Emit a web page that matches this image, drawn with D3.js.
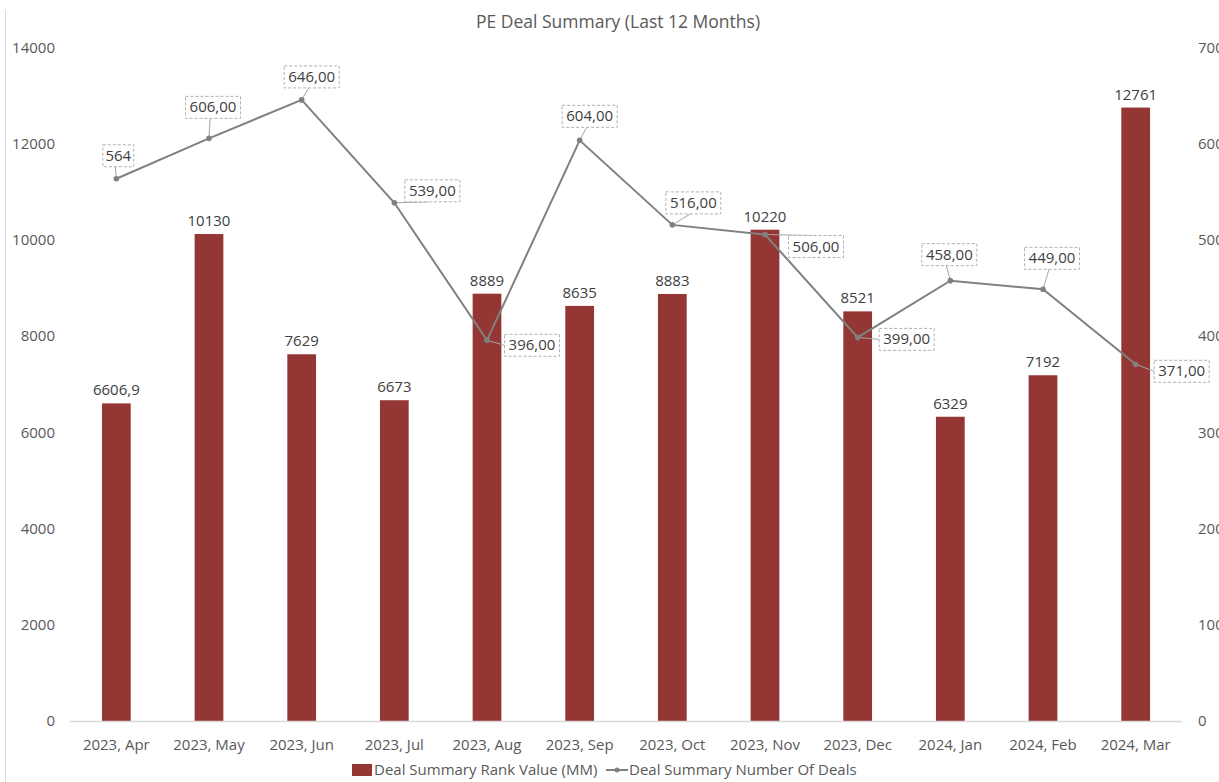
<!DOCTYPE html>
<html>
<head>
<meta charset="utf-8">
<script src="https://cdn.jsdelivr.net/npm/d3@7"></script>
<style>
  body { margin: 0; background: #fff; }
  svg { display: block; font-family: "Open Sans", sans-serif; }
</style>
</head>
<body>
<div id="chart"></div>
<script>
// Chart data
var months = ["2023, Apr", "2023, May", "2023, Jun", "2023, Jul", "2023, Aug", "2023, Sep",
              "2023, Oct", "2023, Nov", "2023, Dec", "2024, Jan", "2024, Feb", "2024, Mar"];
var rankValue = [6606.9, 10130, 7629, 6673, 8889, 8635, 8883, 10220, 8521, 6329, 7192, 12761];
var numDeals = [564, 606, 646, 539, 396, 604, 516, 506, 399, 458, 449, 371];
var dealLabels = ["564", "606,00", "646,00", "539,00", "396,00", "604,00",
                  "516,00", "506,00", "399,00", "458,00", "449,00", "371,00"];
var leftTicks = [0, 2000, 4000, 6000, 8000, 10000, 12000, 14000];
var rightTicks = [0, 100, 200, 300, 400, 500, 600, 700];

// Where each deal label box sits relative to its point (dx, dy)
var labelNudge = [[2, -23], [4, -31], [10, -23], [38, -12], [45, 5], [10, -24],
                  [21, -22], [51, 12], [49, 2], [-1, -26], [9, -31], [46, 7]];

var width = 1219, height = 782;
var margin = { top: 48, right: 37, bottom: 61, left: 70 };

var barColor = "#943634";
var lineColor = "#808080";
var textColor = "#595959";

var svg = d3.select("#chart").append("svg")
    .attr("width", width)
    .attr("height", height);

// Scales
var x = d3.scaleBand()
    .domain(months)
    .range([margin.left, width - margin.right])
    .paddingInner(0.69)
    .paddingOuter(0.345);

var yLeft = d3.scaleLinear().domain([0, 14000]).range([height - margin.bottom, margin.top]);
var yRight = d3.scaleLinear().domain([0, 700]).range([height - margin.bottom, margin.top]);

// Thin border line on the left edge
svg.append("line")
    .attr("x1", 5.5).attr("x2", 5.5)
    .attr("y1", 10).attr("y2", height)
    .attr("stroke", "#d9d9d9");

// Title
svg.append("text")
    .attr("x", 618)
    .attr("y", 28)
    .attr("text-anchor", "middle")
    .attr("fill", textColor)
    .style("font-size", "17.5px")
    .text("PE Deal Summary (Last 12 Months)");

// Left axis labels
svg.append("g")
    .selectAll("text")
    .data(leftTicks)
    .join("text")
    .attr("x", 55)
    .attr("y", d => yLeft(d) + 5)
    .attr("text-anchor", "end")
    .attr("fill", textColor)
    .style("font-size", "15px")
    .text(d => d);

// Right axis labels (cut by the picture edge, as in the source)
svg.append("g")
    .selectAll("text")
    .data(rightTicks)
    .join("text")
    .attr("x", 1198)
    .attr("y", d => yRight(d) + 5)
    .attr("text-anchor", "start")
    .attr("fill", textColor)
    .style("font-size", "15px")
    .text(d => d);

// Bars
svg.append("g")
    .selectAll("rect")
    .data(rankValue)
    .join("rect")
    .attr("x", (d, i) => x(months[i]))
    .attr("y", d => yLeft(d))
    .attr("width", x.bandwidth())
    .attr("height", d => yLeft(0) - yLeft(d))
    .attr("fill", barColor);

// Baseline
svg.append("line")
    .attr("x1", margin.left).attr("x2", width - margin.right)
    .attr("y1", yLeft(0) + 0.5).attr("y2", yLeft(0) + 0.5)
    .attr("stroke", "#d9d9d9")
    .attr("stroke-width", 1.5);

// Bar value labels
svg.append("g")
    .selectAll("text")
    .data(rankValue)
    .join("text")
    .attr("x", (d, i) => x(months[i]) + x.bandwidth() / 2)
    .attr("y", d => yLeft(d) - 8)
    .attr("text-anchor", "middle")
    .attr("fill", "#404040")
    .style("font-size", "15px")
    .text(d => String(d).replace(".", ","));

// X axis labels
svg.append("g")
    .selectAll("text")
    .data(months)
    .join("text")
    .attr("x", d => x(d) + x.bandwidth() / 2)
    .attr("y", 750)
    .attr("text-anchor", "middle")
    .attr("fill", textColor)
    .style("font-size", "15px")
    .text(d => d);

// Line series
var cx = i => x(months[i]) + x.bandwidth() / 2;
var line = d3.line()
    .x((d, i) => cx(i))
    .y(d => yRight(d));

// Label boxes around the deal labels
var boxH = 22;
var boxes = numDeals.map((d, i) => {
    var w = dealLabels[i].length > 3 ? 55 : 31;
    var mx = cx(i) + labelNudge[i][0];
    var my = yRight(d) + labelNudge[i][1];
    return { x: mx - w / 2, y: my - boxH / 2, w: w, h: boxH, mx: mx, my: my };
});

// Leader lines from point to label box
svg.append("g")
    .selectAll("line")
    .data(boxes)
    .join("line")
    .attr("x1", (b, i) => cx(i))
    .attr("y1", (b, i) => yRight(numDeals[i]))
    .attr("x2", (b, i) => {
        var dy = labelNudge[i][1];
        return Math.abs(dy) > 10 ? b.mx - 3 : b.x;
    })
    .attr("y2", (b, i) => {
        var dy = labelNudge[i][1];
        if (dy < -10) return b.y + b.h;
        if (dy > 10) return b.y;
        return b.my;
    })
    .attr("stroke", "#a6a6a6")
    .attr("stroke-width", 1);

svg.append("path")
    .datum(numDeals)
    .attr("d", line)
    .attr("fill", "none")
    .attr("stroke", lineColor)
    .attr("stroke-width", 2);

svg.append("g")
    .selectAll("circle")
    .data(numDeals)
    .join("circle")
    .attr("cx", (d, i) => cx(i))
    .attr("cy", d => yRight(d))
    .attr("r", 2.8)
    .attr("fill", lineColor);

// Deal labels with dashed boxes
var lbl = svg.append("g")
    .selectAll("g")
    .data(boxes)
    .join("g");

lbl.append("rect")
    .attr("x", b => b.x)
    .attr("y", b => b.y)
    .attr("width", b => b.w)
    .attr("height", b => b.h)
    .attr("fill", "#fff")
    .attr("stroke", "#b0b0b0")
    .attr("stroke-dasharray", "3,2");

lbl.append("text")
    .attr("x", b => b.mx)
    .attr("y", b => b.my + 5)
    .attr("text-anchor", "middle")
    .attr("fill", "#404040")
    .style("font-size", "15px")
    .text((b, i) => dealLabels[i]);

// Legend
var legend = svg.append("g");
legend.append("rect")
    .attr("x", 352).attr("y", 764)
    .attr("width", 20).attr("height", 12)
    .attr("fill", barColor);
legend.append("text")
    .attr("x", 374).attr("y", 775)
    .attr("fill", textColor)
    .style("font-size", "15px")
    .text("Deal Summary Rank Value (MM)");
legend.append("line")
    .attr("x1", 606).attr("x2", 628)
    .attr("y1", 770).attr("y2", 770)
    .attr("stroke", lineColor)
    .attr("stroke-width", 2);
legend.append("circle")
    .attr("cx", 617).attr("cy", 770)
    .attr("r", 2.5)
    .attr("fill", lineColor);
legend.append("text")
    .attr("x", 629).attr("y", 775)
    .attr("fill", textColor)
    .style("font-size", "15px")
    .text("Deal Summary Number Of Deals");
</script>
</body>
</html>
